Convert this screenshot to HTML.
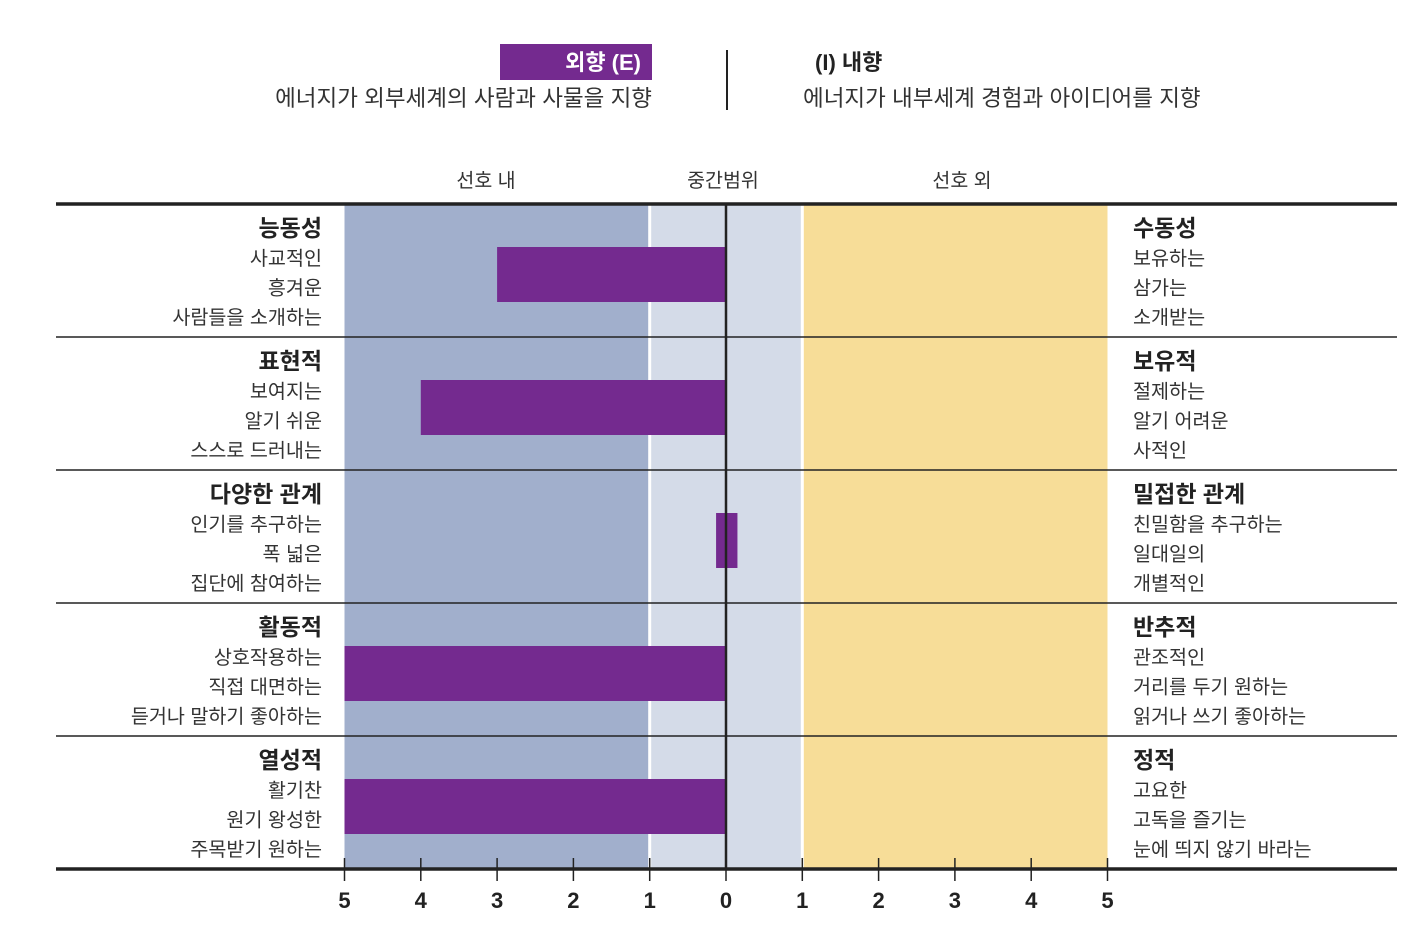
<!DOCTYPE html>
<html><head><meta charset="utf-8"><style>
body{margin:0;background:#fff}
svg text{font-family:"Liberation Sans","Noto Sans CJK KR",sans-serif}
</style></head><body>
<svg id="c" width="1426" height="946" xmlns="http://www.w3.org/2000/svg">
<g>
<rect x="500" y="44" width="152" height="36" fill="#742a8f"/>
<text x="641" y="70" text-anchor="end" fill="#fff" font-size="22" font-weight="bold">외향 (E)</text>
<text x="652" y="106" text-anchor="end" fill="#333" font-size="22.5">에너지가 외부세계의 사람과 사물을 지향</text>
<line x1="727" y1="50" x2="727" y2="110" stroke="#222" stroke-width="2"/>
<text x="815" y="70" fill="#222" font-size="22" font-weight="bold">(I) 내향</text>
<text x="803" y="106" fill="#333" font-size="22.5">에너지가 내부세계 경험과 아이디어를 지향</text>
<text x="486" y="187" text-anchor="middle" fill="#333" font-size="19.5">선호 내</text>
<text x="723" y="187" text-anchor="middle" fill="#333" font-size="19.5">중간범위</text>
<text x="962" y="187" text-anchor="middle" fill="#333" font-size="19.5">선호 외</text>
</g>
<g id="plot"></g>
</svg>
<script>
const leftTitles=["능동성","표현적","다양한 관계","활동적","열성적"];
const leftItems=[["사교적인","흥겨운","사람들을 소개하는"],["보여지는","알기 쉬운","스스로 드러내는"],["인기를 추구하는","폭 넓은","집단에 참여하는"],["상호작용하는","직접 대면하는","듣거나 말하기 좋아하는"],["활기찬","원기 왕성한","주목받기 원하는"]];
const rightTitles=["수동성","보유적","밀접한 관계","반추적","정적"];
const rightItems=[["보유하는","삼가는","소개받는"],["절제하는","알기 어려운","사적인"],["친밀함을 추구하는","일대일의","개별적인"],["관조적인","거리를 두기 원하는","읽거나 쓰기 좋아하는"],["고요한","고독을 즐기는","눈에 띄지 않기 바라는"]];
// signed values: negative = E side, positive = I side; [start,end]
const barStart=[-3,-4,-0.13,-5,-5];
const barEnd=[0,0,0.15,0,0];
const tickLabels=["5","4","3","2","1","0","1","2","3","4","5"];
const tickValues=[-5,-4,-3,-2,-1,0,1,2,3,4,5];

const NS="http://www.w3.org/2000/svg";
const g=document.getElementById('plot');
const x=v=>726+v*76.3;
const top0=204,rowH=133;
const y=i=>top0+i*rowH;
function mk(t,a,p){const e=document.createElementNS(NS,t);for(const k in a)e.setAttribute(k,a[k]);(p||g).appendChild(e);return e;}
let r;
r=mk('rect',{x:x(-5),y:top0,width:x(-1)-x(-5),height:rowH*5,fill:'#a1afcc'});


r=mk('rect',{x:x(-1),y:top0,width:x(1)-x(-1),height:rowH*5,fill:'#d4dbe8'});


r=mk('rect',{x:x(1),y:top0,width:x(5)-x(1),height:rowH*5,fill:'#f7dd98'});


[-1,1].forEach(v=>{const l=mk('line',{x1:x(v),y1:top0,x2:x(v),y2:top0+rowH*5,stroke:'#fff','stroke-width':3});

});
for(let i=1;i<5;i++){const l=mk('line',{x1:56,y1:y(i),x2:1397,y2:y(i),stroke:'#222','stroke-width':1.5});

}
for(let i=0;i<5;i++){
 const a=Math.min(x(barStart[i]),x(barEnd[i])),b=Math.max(x(barStart[i]),x(barEnd[i]));
 const br=mk('rect',{x:a,y:y(i)+43,width:b-a,height:55,fill:'#742a8f'});
 
 
}
r=mk('line',{x1:x(0),y1:top0,x2:x(0),y2:y(5),stroke:'#222','stroke-width':2.5});


r=mk('line',{x1:56,y1:top0,x2:1397,y2:top0,stroke:'#222','stroke-width':3.5});


r=mk('line',{x1:56,y1:y(5),x2:1397,y2:y(5),stroke:'#222','stroke-width':3.5});


tickValues.forEach((v,k)=>{
 const t=mk('line',{x1:x(v),y1:858,x2:x(v),y2:881,stroke:'#222','stroke-width':1.5});
 
 
 const tl=mk('text',{x:x(v),y:908,'text-anchor':'middle','font-size':22,'font-weight':'bold',fill:'#222'});
 tl.textContent=tickLabels[k];
 
 
});
for(let i=0;i<5;i++){
 const by=y(i);
 let t=mk('text',{x:322,y:by+32,'text-anchor':'end','font-size':23,'font-weight':'bold',fill:'#222'});
 t.textContent=leftTitles[i];
 
 
 t=mk('text',{x:1133,y:by+32,'font-size':23,'font-weight':'bold',fill:'#222'});
 t.textContent=rightTitles[i];
 
 
 for(let j=0;j<3;j++){
  t=mk('text',{x:322,y:by+61+j*29.5,'text-anchor':'end','font-size':19.6,fill:'#333'});
  t.textContent=leftItems[i][j];
  
  
  t=mk('text',{x:1133,y:by+61+j*29.5,'font-size':19.6,fill:'#333'});
  t.textContent=rightItems[i][j];
  
  
 }
}
</script>
</body></html>
